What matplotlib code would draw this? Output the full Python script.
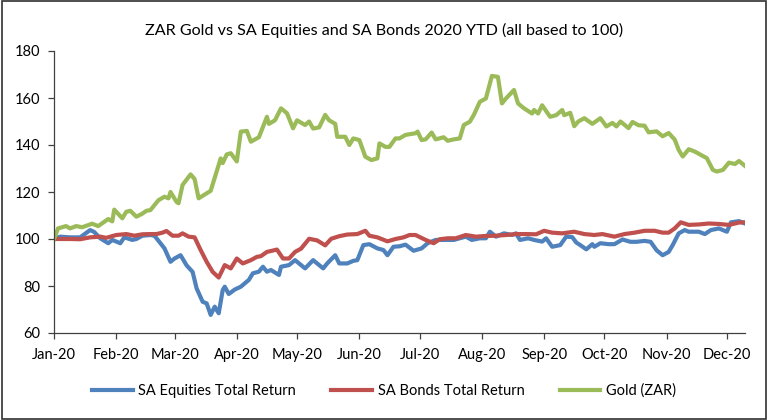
import matplotlib
matplotlib.use('Agg')
import matplotlib.pyplot as plt
import matplotlib.dates as mdates
from matplotlib.patches import Rectangle
import pandas as pd

plt.rcParams['font.family'] = ['Lato', 'DejaVu Sans']

chart_title = 'ZAR Gold vs SA Equities and SA Bonds 2020 YTD (all based to 100)'
start = pd.Timestamp('2020-01-01')

# days since 1 Jan 2020
gold_day = [0, 2, 6, 8, 11, 14, 19, 22, 27, 29, 30, 34, 36, 38, 41, 44, 46, 48, 52, 55,
            57, 58, 61, 62, 64, 68, 70, 72, 76, 78, 83, 84, 86, 88, 91, 93, 96, 98, 102, 106,
            107, 110, 113, 116, 119, 121, 125, 127, 129, 132, 135, 137, 140, 141, 145, 147, 149, 152, 155, 158,
            161, 162, 165, 167, 170, 172, 175, 180, 181, 183, 185, 188, 190, 194, 196, 199, 202, 204, 207, 209,
            212, 215, 218, 221, 223, 225, 229, 231, 234, 238, 239, 241, 243, 247, 250, 253, 254, 257, 259, 261,
            264, 268, 272, 275, 278, 280, 282, 286, 288, 291, 294, 296, 300, 303, 306, 309, 311, 313, 316, 319,
            322, 325, 328, 330, 333, 336, 339, 341, 344]
gold_val = [100, 104.5, 105.5, 104.5, 105.5, 105, 106.5, 105.5, 108.5, 107.5, 112.5, 108.8, 111.6, 112, 109.5, 110.8, 112, 112.3, 116.5, 118,
            117.3, 120, 115.8, 115.2, 123, 127.5, 125.5, 117.3, 119.4, 120.5, 134.3, 132.3, 136, 136.5, 133, 145.7, 146, 141.4, 143.3, 152,
            149, 150.5, 155.6, 153.5, 147.1, 150.5, 148.5, 150, 147, 147.5, 152.8, 150.5, 149, 143.5, 143.5, 140, 142.8, 142.1, 135, 133.6,
            134.3, 140.7, 139.2, 139.2, 142.8, 142.8, 144.3, 145, 145.7, 142.1, 142.4, 145.3, 142.4, 143.3, 141.8, 142.4, 142.8, 148.5, 149.9, 152.8,
            158.4, 159.8, 169.4, 169, 157.7, 159.8, 163.4, 157.7, 155.6, 153.4, 154.9, 153.4, 156.9, 152, 152.7, 154.9, 152.7, 153.7, 148, 150,
            151.4, 149, 151.4, 147.9, 149.4, 147.9, 150, 147.2, 149.8, 148.4, 148.2, 145.4, 145.8, 143.7, 145.1, 142.3, 137.9, 135.1, 138.2, 137.2,
            135.8, 134.4, 129.4, 128.7, 129.4, 132.5, 131.9, 133.2, 131.1]

eq_day = [0, 3, 8, 13, 18, 20, 23, 27, 29, 33, 35, 39, 41, 44, 48, 50, 53, 55, 58, 60,
          63, 66, 69, 71, 74, 76, 78, 80, 82, 84, 85, 87, 90, 93, 97, 99, 102, 104, 106, 108,
          112, 113, 117, 120, 125, 129, 131, 134, 136, 140, 142, 146, 149, 151, 154, 157, 161, 164, 166, 169,
          172, 175, 179, 183, 186, 190, 195, 199, 202, 205, 208, 212, 215, 217, 220, 224, 228, 230, 232, 236,
          239, 243, 245, 248, 252, 255, 258, 260, 262, 265, 268, 269, 272, 276, 279, 283, 287, 290, 294, 297,
          300, 303, 306, 308, 311, 314, 316, 321, 324, 327, 331, 335, 337, 341, 344]
eq_val = [100, 101, 100.7, 100.7, 103.8, 103, 100.3, 98.2, 99.6, 98.2, 100.7, 99.6, 100, 101.4, 101.7, 101.4, 98.2, 96, 90.3, 91.7,
          93.1, 88.8, 86, 79, 73.3, 72.6, 67.7, 71.2, 68.4, 78.3, 79.7, 76.6, 78.5, 79.7, 82.6, 85.4, 86.1, 88.2, 86.1, 86.8,
          84.7, 88.2, 88.9, 91, 87.5, 91, 89.6, 87.5, 89.6, 93.1, 89.6, 89.6, 90.7, 91, 97.4, 97.8, 96, 95.3, 93.1, 96.7,
          96.9, 97.6, 95, 96, 98.2, 99.6, 99.6, 99.6, 100.3, 101, 99.6, 100.3, 100.3, 103.1, 101, 102.4, 101.7, 102.4, 99.6, 100.3,
          99.6, 98.9, 100.3, 96.7, 97.4, 101, 100.8, 98.5, 97.4, 95.6, 97.8, 96.7, 98.2, 97.8, 97.8, 99.8, 98.8, 98.8, 99.2, 98.8,
          95.2, 93.1, 94.5, 97.4, 102.4, 103.8, 103.1, 103.1, 102.1, 103.8, 104.5, 103.1, 107.1, 107.6, 106.6]

bond_day = [0, 8, 13, 18, 23, 26, 31, 36, 40, 44, 48, 51, 54, 56, 59, 62, 64, 67, 70, 73,
            76, 79, 82, 85, 88, 91, 94, 98, 101, 103, 106, 111, 114, 117, 120, 123, 127, 131, 135, 138,
            142, 146, 151, 155, 157, 161, 166, 170, 174, 177, 180, 185, 189, 192, 196, 200, 205, 210, 215, 220,
            225, 230, 235, 240, 244, 248, 253, 259, 264, 269, 273, 279, 284, 289, 294, 299, 303, 306, 309, 312,
            316, 321, 326, 331, 336, 341, 344]
bond_val = [100, 100, 99.9, 100.7, 101, 100.5, 101.7, 102.1, 101.4, 102, 102.1, 102.1, 102.7, 103.4, 101.4, 101.4, 102.4, 101, 100.7, 95.3,
            90.3, 86, 83.6, 88.9, 87.5, 91.7, 89.6, 91, 92.4, 92.7, 94.5, 95.5, 91.7, 91.7, 94.5, 95.9, 100.1, 99.4, 97.3, 100.1,
            101.2, 101.9, 102.1, 103.5, 101.4, 100.7, 99, 100, 100.7, 101.7, 101.7, 99.6, 98.2, 99.9, 100.3, 100.3, 101.7, 101, 101.3, 101.4,
            101.7, 102.1, 102.1, 102, 103.5, 102.7, 102.4, 103.1, 102.1, 101.7, 102.1, 101, 102.1, 102.7, 103.5, 103.5, 102.7, 102.7, 104.5, 107.1,
            106, 106.2, 106.6, 106.4, 106, 107, 107.1]

series_names = ['SA Equities Total Return', 'SA Bonds Total Return', 'Gold (ZAR)']
series_colors = ['#4F81BD', '#C0504D', '#9BBB59']

def to_dates(days):
    return start + pd.to_timedelta(days, unit='D')

fig = plt.figure(figsize=(7.68, 4.2), dpi=100)
ax = fig.add_axes([54/768, 1-333/420, (745-54)/768, (333-51)/420])

ax.plot(to_dates(eq_day), eq_val, color=series_colors[0], lw=3, label=series_names[0])
ax.plot(to_dates(bond_day), bond_val, color=series_colors[1], lw=3, label=series_names[1])
ax.plot(to_dates(gold_day), gold_val, color=series_colors[2], lw=3, label=series_names[2])

ax.set_ylim(60, 180)
ax.set_yticks(range(60, 181, 20))
ax.set_xlim(start, start + pd.Timedelta(days=344))
ax.xaxis.set_major_locator(mdates.MonthLocator())
ax.xaxis.set_major_formatter(mdates.DateFormatter('%b-%y'))

for s in ['top', 'right']:
    ax.spines[s].set_visible(False)
for s in ['left', 'bottom']:
    ax.spines[s].set_color('#404040')
    ax.spines[s].set_linewidth(0.9)
ax.tick_params(axis='both', direction='out', length=4, width=0.9, color='#404040',
               labelsize=10.5, labelcolor='black')
ax.tick_params(axis='x', pad=7)
ax.tick_params(axis='y', pad=6)

fig.text(0.5, 1-30/420, chart_title, ha='center', va='center', fontsize=11.6)

fig.legend(loc='center', bbox_to_anchor=(0.5, 1-391/420), ncol=3, frameon=False,
           fontsize=10.5, handlelength=2.8, handletextpad=0.4, columnspacing=2.4)

fig.patches.append(Rectangle((0.002, 0.003), 0.995, 0.994, transform=fig.transFigure,
                             fill=False, edgecolor='#303030', linewidth=1.2))

fig.savefig('out.png', dpi=100)
